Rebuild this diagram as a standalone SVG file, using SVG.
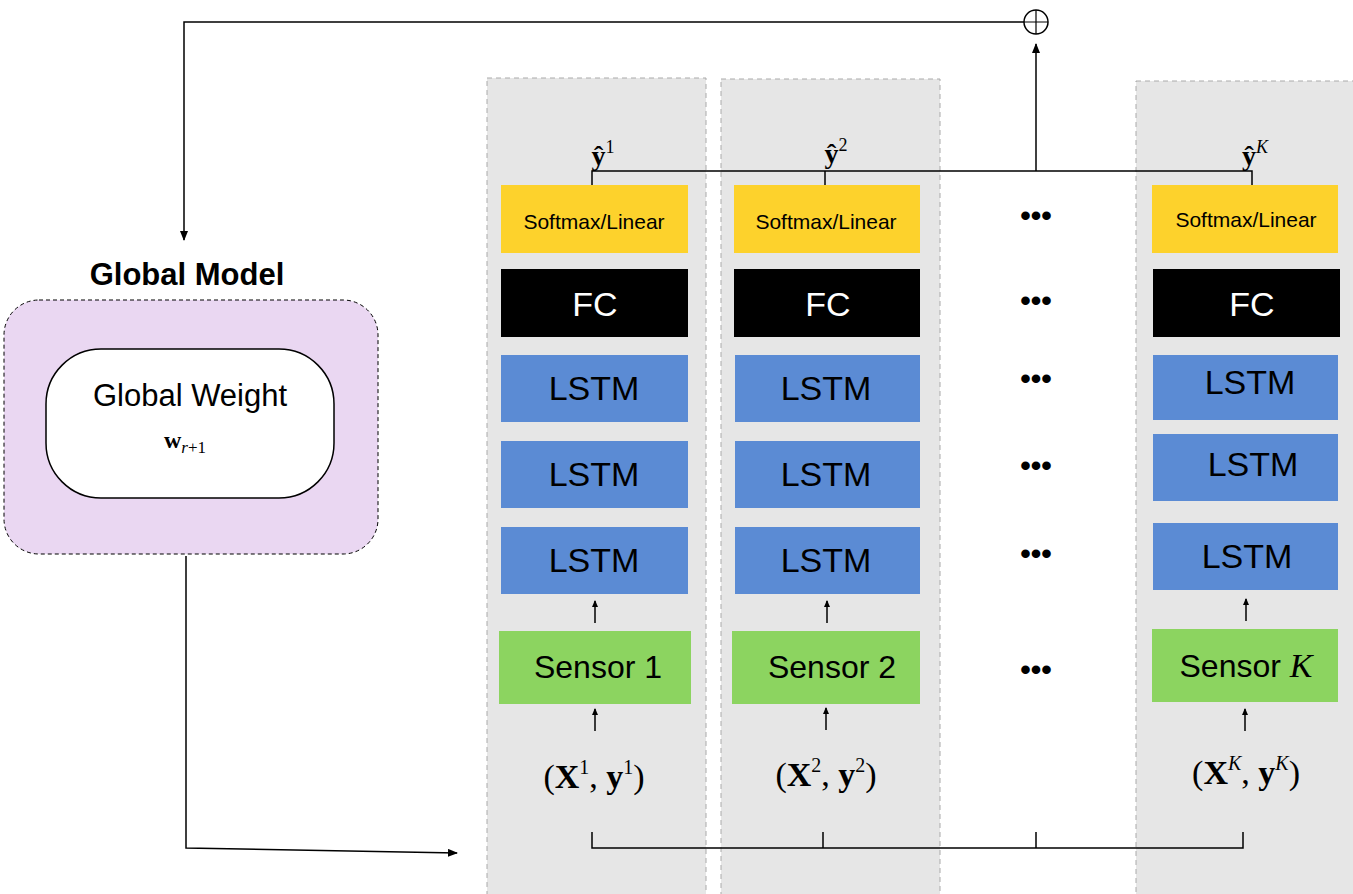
<svg xmlns="http://www.w3.org/2000/svg" width="1353" height="894" viewBox="0 0 1353 894">
<style>
.col{fill:#e6e6e6;stroke:#aaa;stroke-dasharray:5,4;stroke-width:1}
.y{fill:#fdd22c}.fc{fill:#000}.l{fill:#5b8bd4}.s{fill:#8cd460}
.t{font-family:"Liberation Sans",Arial,sans-serif;text-anchor:middle;fill:#000}
.m{font-family:"Liberation Serif","Times New Roman",serif;text-anchor:middle;fill:#000}
.c{stroke:#000;stroke-width:1.5;fill:none}
.d{font-family:"Liberation Sans",sans-serif;font-size:30px;font-weight:bold;text-anchor:middle}
</style>
<defs><marker id="a" markerWidth="10" markerHeight="8" refX="9" refY="4" orient="auto" markerUnits="userSpaceOnUse"><path d="M0,0L10,4L0,8z" fill="#000"/></marker>
<marker id="s" markerWidth="7" markerHeight="6" refX="6" refY="3" orient="auto" markerUnits="userSpaceOnUse"><path d="M0,0L7,3L0,6z" fill="#000"/></marker></defs>
<rect class="col" x="487" y="78" width="219" height="820"/>
<rect class="col" x="721" y="79" width="219" height="820"/>
<rect class="col" x="1136" y="81" width="220" height="820"/>
<g id="global">
<text class="t" x="187" y="285" font-size="31" font-weight="bold">Global Model</text>
<rect x="4" y="300" width="374" height="254" rx="35" fill="#ead7f2" stroke="#000" stroke-dasharray="4,3"/>
<rect x="46" y="349" width="288" height="149" rx="55" fill="#fff" stroke="#000" stroke-width="1.5"/>
<text class="t" x="190" y="406" font-size="31">Global Weight</text>
<text class="m" x="185" y="448" font-size="24" font-weight="bold">w<tspan font-size="17" font-weight="normal" font-style="italic" dy="5">r</tspan><tspan font-size="17" font-weight="normal" dy="0">+1</tspan></text>
</g>
<g id="col1">
<text class="m" x="603" y="165" font-size="28" font-weight="bold">ŷ<tspan font-size="18" font-weight="normal" dy="-12">1</tspan></text>
<rect class="y" x="501" y="185" width="187" height="68"/><text class="t" x="594" y="229" font-size="21">Softmax/Linear</text>
<rect class="fc" x="501" y="269" width="187" height="68"/><text class="t" x="595" y="316" font-size="34" fill="#fff" style="fill:#fff">FC</text>
<rect class="l" x="501" y="355" width="187" height="67"/><text class="t" x="594" y="400" font-size="34">LSTM</text>
<rect class="l" x="501" y="441" width="187" height="67"/><text class="t" x="594" y="486" font-size="34">LSTM</text>
<rect class="l" x="501" y="527" width="187" height="67"/><text class="t" x="594" y="572" font-size="34">LSTM</text>
<rect class="s" x="499" y="631" width="192" height="73"/><text class="t" x="598" y="678" font-size="32">Sensor 1</text>
<text class="m" x="594" y="788" font-size="34">(<tspan font-weight="bold">X</tspan><tspan font-size="20" dy="-14">1</tspan><tspan dy="14">, </tspan><tspan font-weight="bold">y</tspan><tspan font-size="20" dy="-14">1</tspan><tspan dy="14">)</tspan></text>
</g>
<g id="col2">
<text class="m" x="836" y="163" font-size="28" font-weight="bold">ŷ<tspan font-size="18" font-weight="normal" dy="-12">2</tspan></text>
<rect class="y" x="734" y="185" width="186" height="68"/><text class="t" x="826" y="229" font-size="21">Softmax/Linear</text>
<rect class="fc" x="734" y="269" width="186" height="68"/><text class="t" x="828" y="316" font-size="34" style="fill:#fff">FC</text>
<rect class="l" x="735" y="355" width="185" height="67"/><text class="t" x="826" y="400" font-size="34">LSTM</text>
<rect class="l" x="735" y="441" width="185" height="67"/><text class="t" x="826" y="486" font-size="34">LSTM</text>
<rect class="l" x="735" y="527" width="185" height="67"/><text class="t" x="826" y="572" font-size="34">LSTM</text>
<rect class="s" x="732" y="631" width="188" height="73"/><text class="t" x="832" y="678" font-size="32">Sensor 2</text>
<text class="m" x="826" y="786" font-size="34">(<tspan font-weight="bold">X</tspan><tspan font-size="20" dy="-14">2</tspan><tspan dy="14">, </tspan><tspan font-weight="bold">y</tspan><tspan font-size="20" dy="-14">2</tspan><tspan dy="14">)</tspan></text>
</g>
<g id="dots" font-size="40">
<text class="d" x="1036" y="226">•••</text><text class="d" x="1036" y="311">•••</text><text class="d" x="1036" y="389">•••</text>
<text class="d" x="1036" y="476">•••</text><text class="d" x="1036" y="564">•••</text><text class="d" x="1036" y="680">•••</text>
</g>
<g id="colK">
<text class="m" x="1255" y="165" font-size="28" font-weight="bold">ŷ<tspan font-size="18" font-weight="normal" font-style="italic" dy="-12">K</tspan></text>
<rect class="y" x="1152" y="185" width="186" height="68"/><text class="t" x="1246" y="227" font-size="21">Softmax/Linear</text>
<rect class="fc" x="1153" y="269" width="187" height="68"/><text class="t" x="1252" y="316" font-size="34" style="fill:#fff">FC</text>
<rect class="l" x="1153" y="355" width="185" height="65"/><text class="t" x="1250" y="394" font-size="34">LSTM</text>
<rect class="l" x="1153" y="434" width="185" height="67"/><text class="t" x="1253" y="476" font-size="34">LSTM</text>
<rect class="l" x="1153" y="523" width="185" height="67"/><text class="t" x="1247" y="568" font-size="34">LSTM</text>
<rect class="s" x="1152" y="629" width="186" height="73"/><text class="t" x="1246" y="677" font-size="32">Sensor <tspan font-family="Liberation Serif,serif" font-style="italic" font-size="34">K</tspan></text>
<text class="m" x="1246" y="784" font-size="34">(<tspan font-weight="bold">X</tspan><tspan font-size="20" font-style="italic" dy="-14">K</tspan><tspan dy="14">, </tspan><tspan font-weight="bold">y</tspan><tspan font-size="20" font-style="italic" dy="-14">K</tspan><tspan dy="14">)</tspan></text>
</g>
<g id="sum"><circle cx="1036" cy="22" r="12" fill="#fff" stroke="#000" stroke-width="1.5"/><path d="M1024,22H1048M1036,10V34" stroke="#000" stroke-width="1.2"/></g>
<g id="connectors">
<path class="c" d="M592,185V171H1252V185M825,171V185"/>
<path class="c" d="M1036,171V44" marker-end="url(#a)"/>
<path class="c" d="M1024,22H184V240" marker-end="url(#a)"/>
<path class="c" d="M186,556V848L457,853" marker-end="url(#a)"/>
<path class="c" d="M592,832V848H1243V832M823,848V832M1036,848V832"/>
<g stroke="#000" stroke-width="1.5">
<path d="M595,623V601" marker-end="url(#s)"/><path d="M595,731V709" marker-end="url(#s)"/>
<path d="M827,623V601" marker-end="url(#s)"/><path d="M826,730V708" marker-end="url(#s)"/>
<path d="M1246,621V599" marker-end="url(#s)"/><path d="M1245,731V709" marker-end="url(#s)"/>
</g>
</g>
</svg>
